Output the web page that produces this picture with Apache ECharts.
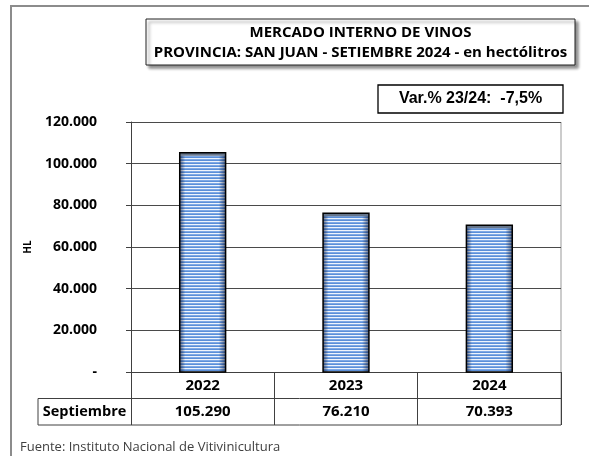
<!DOCTYPE html>
<html>
<head>
<meta charset="utf-8">
<script src="https://cdn.jsdelivr.net/npm/echarts@6/dist/echarts.min.js"></script>
<style>
  html, body { margin: 0; padding: 0; background: #fff; }
  #chart { width: 589px; height: 456px; }
</style>
</head>
<body>
<div id="chart"></div>
<script>
// datos
const years = ['2022', '2023', '2024'];
const septiembre = [105290, 76210, 70393];
const yTicks = [0, 20000, 40000, 60000, 80000, 100000, 120000];
const titleLines = ['MERCADO INTERNO DE VINOS', 'PROVINCIA: SAN JUAN - SETIEMBRE 2024 - en hectólitros'];
const varText = 'Var.% 23/24:  -7,5%';
const rowLabel = 'Septiembre';
const source = 'Fuente: Instituto Nacional de Vitivinicultura';

const fmt = (v) => (v === 0 ? '-' : String(v).replace(/\B(?=(\d{3})+(?!\d))/g, '.'));

// trama de rayas horizontales para las barras
const stripe = document.createElement('canvas');
stripe.width = 4;
stripe.height = 3;
const sctx = stripe.getContext('2d');
['#7ea9e6', '#5b8fd8', '#eef4fc'].forEach((c, i) => {
  sctx.fillStyle = c;
  sctx.fillRect(0, i, 4, 1);
});

const chart = echarts.init(document.getElementById('chart'));

chart.setOption({
  animation: false,
  textStyle: { fontFamily: 'Open Sans' },
  grid: { left: 131, right: 28, top: 122, bottom: 84 },
  xAxis: {
    type: 'category',
    data: years,
    axisLine: { lineStyle: { color: '#404040', width: 1 } },
    axisTick: { show: true, inside: false, length: 53, lineStyle: { color: '#404040' } },
    axisLabel: {
      margin: 0,
      color: '#000',
      fontWeight: 'bold',
      fontSize: 15,
      lineHeight: 26.5,
      formatter(value, idx) {
        return value + '\n' + fmt(septiembre[idx]);
      },
    },
  },
  yAxis: {
    type: 'value',
    min: yTicks[0],
    max: yTicks[yTicks.length - 1],
    interval: 20000,
    name: 'HL',
    nameLocation: 'middle',
    nameRotate: 90,
    nameGap: 98,
    nameTextStyle: { fontSize: 10, fontWeight: 'bold', color: '#000' },
    axisLine: { show: true, lineStyle: { color: '#404040' } },
    axisTick: { show: true, length: 5, lineStyle: { color: '#404040' } },
    splitLine: { lineStyle: { color: '#4a4a4a', width: 1 } },
    axisLabel: {
      margin: 34,
      color: '#000',
      fontWeight: 'bold',
      fontSize: 14,
      formatter: fmt,
    },
  },
  series: [{
    type: 'custom',
    data: septiembre.map((v, i) => [i, v]),
    renderItem(params, api) {
      const top = api.coord([api.value(0), api.value(1)]);
      const base = api.coord([api.value(0), 0]);
      const w = api.size([1, 0])[0] * 0.32;
      const x = top[0] - w / 2;
      const h = base[1] - top[1];
      return {
        type: 'group',
        children: [
          {
            type: 'rect',
            shape: { x, y: top[1], width: w, height: h },
            style: { fill: { image: stripe, repeat: 'repeat' } },
          },
          {
            type: 'rect',
            shape: { x, y: top[1], width: w, height: h },
            style: {
              fill: new echarts.graphic.LinearGradient(0, 0, 1, 0, [
                { offset: 0, color: 'rgba(10,20,50,0.6)' },
                { offset: 0.12, color: 'rgba(10,20,50,0)' },
                { offset: 0.85, color: 'rgba(10,20,50,0)' },
                { offset: 1, color: 'rgba(10,20,50,0.6)' },
              ]),
            },
          },
          {
            type: 'rect',
            shape: { x, y: top[1], width: w, height: 3 },
            style: { fill: '#66768c' },
          },
          {
            type: 'rect',
            shape: { x, y: top[1], width: w, height: h },
            style: { fill: 'none', stroke: '#000', lineWidth: 1.5 },
          },
        ],
      };
    },
  }],
  graphic: [
    // marco exterior
    { type: 'rect', shape: { x: 11, y: 6, width: 600, height: 480 },
      style: { fill: 'none', stroke: '#8c8c8c', lineWidth: 2 }, z: 0 },
    // recuadro del título
    { type: 'rect', shape: { x: 146, y: 19, width: 429, height: 46 },
      style: { fill: '#fff', stroke: '#222', lineWidth: 1,
        shadowBlur: 3, shadowOffsetX: 3, shadowOffsetY: 3, shadowColor: 'rgba(0,0,0,0.45)' } },
    { type: 'text', x: 360.5, y: 33, style: { text: titleLines[0], fontFamily: 'Open Sans',
      fontSize: 15, fontWeight: 'bold', fill: '#000', align: 'center', verticalAlign: 'middle' } },
    { type: 'text', x: 360.5, y: 53, style: { text: titleLines[1], fontFamily: 'Open Sans',
      fontSize: 15, fontWeight: 'bold', fill: '#000', align: 'center', verticalAlign: 'middle' } },
    // variación
    { type: 'rect', shape: { x: 378, y: 85, width: 185, height: 28 },
      style: { fill: '#fff', stroke: '#000', lineWidth: 1.3 } },
    { type: 'text', x: 470.5, y: 99, style: { text: varText, fontFamily: 'Liberation Sans',
      fontSize: 16, fontWeight: 'bold', fill: '#000', align: 'center', verticalAlign: 'middle' } },
    // borde derecho del área de trazado
    { type: 'line', shape: { x1: 561, y1: 122, x2: 561, y2: 425 },
      style: { stroke: '#999', lineWidth: 1 } },
    // tabla de datos
    { type: 'line', shape: { x1: 38, y1: 398.5, x2: 561, y2: 398.5 },
      style: { stroke: '#404040', lineWidth: 1 } },
    { type: 'line', shape: { x1: 38, y1: 425, x2: 561, y2: 425 },
      style: { stroke: '#404040', lineWidth: 1 } },
    { type: 'line', shape: { x1: 38, y1: 398.5, x2: 38, y2: 425 },
      style: { stroke: '#404040', lineWidth: 1 } },
    { type: 'text', x: 84.5, y: 412, style: { text: rowLabel, fontFamily: 'Open Sans',
      fontSize: 14.5, fontWeight: 'bold', fill: '#000', align: 'center', verticalAlign: 'middle' } },
    // fuente
    { type: 'text', x: 20, y: 447, style: { text: source, fontFamily: 'Open Sans',
      fontSize: 13, fill: '#404040', align: 'left', verticalAlign: 'middle' } },
  ],
});
</script>
</body>
</html>
